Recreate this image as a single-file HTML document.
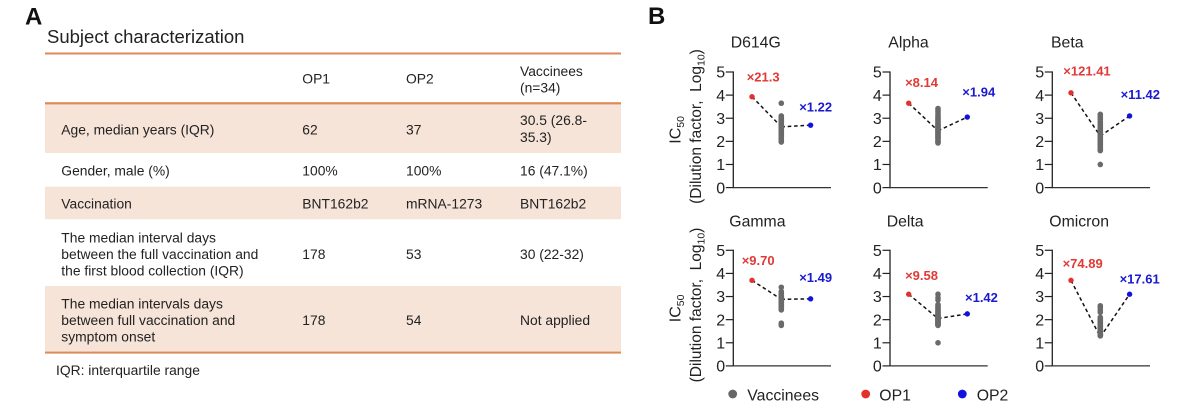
<!DOCTYPE html>
<html lang="en">
<head>
<meta charset="utf-8">
<title>Subject characterization and IC50 panels</title>
<style>
html,body{margin:0;padding:0;background:#fff;}
svg{display:block;}
text{font-family:"Liberation Sans",Arial,sans-serif;fill:#222;}
.cell{font-size:13.85px;}
</style>
</head>
<body>
<svg id="fig" xmlns="http://www.w3.org/2000/svg" width="1200" height="412" viewBox="0 0 1200 412">
  <rect x="0" y="0" width="1200" height="412" fill="#fff"/>

  <g>
    <text x="25" y="24.3" font-size="24" font-weight="bold" style="fill:#111">A</text>
    <text x="47" y="43" font-size="18.5">Subject characterization</text>

    <rect x="45" y="104" width="576" height="49" fill="#f6e4d8"/>
    <rect x="45" y="186.7" width="576" height="32.6" fill="#f6e4d8"/>
    <rect x="45" y="286" width="576" height="66" fill="#f6e4d8"/>
    <rect x="45" y="52.5" width="576" height="2" fill="#dc8a58"/>
    <rect x="45" y="102.2" width="576" height="2.2" fill="#dc8a58"/>
    <rect x="45" y="351.6" width="576" height="2" fill="#dc8a58"/>

    <text class="cell" x="302.3" y="83.3">OP1</text>
    <text class="cell" x="406" y="83.3">OP2</text>
    <text class="cell" x="520" y="76">Vaccinees</text>
    <text class="cell" x="520" y="92.3">(n=34)</text>

    <text class="cell" x="61.3" y="134.3">Age, median years (IQR)</text>
    <text class="cell" x="302.3" y="134.3">62</text>
    <text class="cell" x="406" y="134.3">37</text>
    <text class="cell" x="520" y="125">30.5 (26.8-</text>
    <text class="cell" x="520" y="142">35.3)</text>

    <text class="cell" x="61.3" y="175.7">Gender, male (%)</text>
    <text class="cell" x="302.3" y="175.7">100%</text>
    <text class="cell" x="406" y="175.7">100%</text>
    <text class="cell" x="520" y="175.7">16 (47.1%)</text>

    <text class="cell" x="61.3" y="208.3">Vaccination</text>
    <text class="cell" x="302.3" y="208.3">BNT162b2</text>
    <text class="cell" x="406" y="208.3">mRNA-1273</text>
    <text class="cell" x="520" y="208.3">BNT162b2</text>

    <text class="cell" x="61.3" y="242.3">The median interval days</text>
    <text class="cell" x="61.3" y="258.8">between the full vaccination and</text>
    <text class="cell" x="61.3" y="275.5">the first blood collection (IQR)</text>
    <text class="cell" x="302.3" y="258.8">178</text>
    <text class="cell" x="406" y="258.8">53</text>
    <text class="cell" x="520" y="258.8">30 (22-32)</text>

    <text class="cell" x="61.3" y="308.3">The median intervals days</text>
    <text class="cell" x="61.3" y="325">between full vaccination and</text>
    <text class="cell" x="61.3" y="341.7">symptom onset</text>
    <text class="cell" x="302.3" y="325">178</text>
    <text class="cell" x="406" y="325">54</text>
    <text class="cell" x="520" y="325">Not applied</text>

    <text class="cell" x="56" y="375">IQR: interquartile range</text>
  </g>

  <g id="panelB">
    <text x="648" y="24" font-size="24" font-weight="bold" style="fill:#111">B</text>
  </g>

  <g>
    <circle cx="732.7" cy="394" r="4.4" fill="#666"/>
    <text x="747.3" y="400.3" font-size="15.8">Vaccinees</text>
    <circle cx="865.7" cy="394" r="4.4" fill="#e2302c"/>
    <text x="879.3" y="400.3" font-size="15.8">OP1</text>
    <circle cx="962.3" cy="394" r="4.4" fill="#1212dc"/>
    <text x="976.7" y="400.3" font-size="15.8">OP2</text>
  </g>
</svg>

<script>
const variants = ['D614G', 'Alpha', 'Beta', 'Gamma', 'Delta', 'Omicron'];
const yTicks = [0, 1, 2, 3, 4, 5];
const groups = ['OP1', 'Vaccinees', 'OP2'];
const op1Values = [3.93, 3.65, 4.1, 3.7, 3.1, 3.7];
const op2Values = [2.7, 3.05, 3.1, 2.9, 2.25, 3.1];
const vaccineeMedians = [2.63, 2.46, 2.23, 2.88, 2.05, 1.25];
const op1Folds = ['×21.3', '×8.14', '×121.41', '×9.70', '×9.58', '×74.89'];
const op2Folds = ['×1.22', '×1.94', '×11.42', '×1.49', '×1.42', '×17.61'];
const vaccineesD614G = [3.65,3.1,3.08,3.05,3.0,2.95,2.92,2.9,2.85,2.82,2.8,2.75,2.72,2.7,2.65,2.62,2.6,2.58,2.55,2.5,2.48,2.45,2.42,2.4,2.35,2.32,2.3,2.25,2.2,2.15,2.1,2.05,2.0,1.97];
const vaccineesAlpha = [3.42,3.35,3.28,3.2,3.12,3.05,3.0,2.95,2.9,2.85,2.8,2.75,2.7,2.68,2.65,2.6,2.56,2.52,2.5,2.46,2.42,2.4,2.36,2.32,2.3,2.25,2.2,2.18,2.15,2.1,2.05,2.0,1.97,1.93];
const vaccineesBeta = [3.17,3.1,3.02,2.95,2.85,2.8,2.72,2.68,2.62,2.58,2.52,2.48,2.42,2.38,2.34,2.3,2.25,2.2,2.16,2.12,2.08,2.04,2.0,1.96,1.92,1.88,1.84,1.8,1.75,1.7,1.65,1.62,1.6,1.0];
const vaccineesGamma = [3.4,3.22,3.15,3.1,3.05,3.02,3.0,2.97,2.95,2.92,2.9,2.88,2.86,2.84,2.82,2.8,2.78,2.76,2.74,2.72,2.7,2.68,2.65,2.62,2.6,2.58,2.55,2.52,2.5,2.46,2.42,1.85,1.8,1.75];
const vaccineesDelta = [3.1,2.95,2.85,2.65,2.6,2.55,2.5,2.45,2.4,2.36,2.32,2.28,2.25,2.2,2.18,2.15,2.12,2.1,2.06,2.04,2.02,2.0,1.98,1.95,1.92,1.9,1.88,1.86,1.84,1.82,1.8,1.77,1.75,1.0];
const vaccineesOmicron = [2.6,2.52,2.42,2.32,2.1,2.05,2.0,1.96,1.92,1.9,1.86,1.82,1.8,1.76,1.72,1.7,1.66,1.62,1.6,1.58,1.55,1.52,1.5,1.48,1.45,1.42,1.4,1.38,1.36,1.35,1.33,1.32,1.31,1.3];
const vaccineeSeries = [vaccineesD614G, vaccineesAlpha, vaccineesBeta, vaccineesGamma, vaccineesDelta, vaccineesOmicron];

const layoutAxisX = [733.3, 890, 1052.3];
const layoutRowTop = [72, 250.3];
const layoutTitleX = [730.7, 888.3, 1051, 729.3, 886.7, 1049.3];
const layoutOp1Offset = [[-5.3,-15],[-3.6,-16.3],[-7.7,-17.5],[-10.3,-15.3],[-3.6,-14.3],[-8.4,-12.6]];
const layoutOp2Offset = [[-11.4,-13.5],[-5,-20.8],[-9,-17],[-11.4,-17],[-2.3,-12],[-10,-10.5]];
const plotHeight = 115.6;
const plotWidth = 97.7;
const yMax = 5;
const svgNS = 'http://www.w3.org/2000/svg';
const root = document.getElementById('panelB');

function make(parent, tag, attrs, content) {
  const el = document.createElementNS(svgNS, tag);
  Object.keys(attrs).forEach(function (k) { el.setAttribute(k, attrs[k]); });
  if (content !== undefined) el.textContent = content;
  parent.appendChild(el);
  return el;
}

function drawYTitle(g, cx, cy, slug) {
  const title = make(g, 'text', { transform: 'translate(' + cx + ',' + cy + ') rotate(-90)', 'text-anchor': 'middle', 'font-size': 15.5 });
  
  
  make(title, 'tspan', { x: -3.4, y: -4.3, 'font-size': 16 }, 'IC');
  make(title, 'tspan', { dy: 3.5, 'font-size': 10.5 }, '50');
  make(title, 'tspan', { x: 0, y: 16 }, '(Dilution factor,\u00a0\u00a0Log');
  make(title, 'tspan', { dy: 3.5, 'font-size': 10.5 }, '10');
  make(title, 'tspan', { dy: -3.5 }, ')');
}

variants.forEach(function (name, i) {
  const col = i % 3;
  const row = Math.floor(i / 3);
  const slug = name.toLowerCase();
  const x0 = layoutAxisX[col];
  const top = layoutRowTop[row];
  const yScale = function (v) { return top + plotHeight - (v / yMax) * plotHeight; };
  const xScale = function (k) { return x0 + 18.7 + k * 29.3; };

  const g = make(root, 'g', {});
  
  

  const title = make(g, 'text', { x: layoutTitleX[i], y: row === 0 ? 47.7 : 226.7, 'font-size': 15.8 }, name);
  
  

  if (col === 0) drawYTitle(g, 685, row === 0 ? 126.5 : 305, slug);

  const yAxis = make(g, 'line', { x1: x0, x2: x0, y1: yScale(yMax) - 0.6, y2: yScale(0) + 0.6, stroke: '#222', 'stroke-width': 1.3 });
  
  
  const xAxis = make(g, 'line', { x1: x0, x2: x0 + plotWidth, y1: yScale(0), y2: yScale(0), stroke: '#333', 'stroke-width': 1.3 });
  
  

  yTicks.forEach(function (t) {
    const tick = make(g, 'line', { x1: x0 - 7.5, x2: x0, y1: yScale(t), y2: yScale(t), stroke: '#222', 'stroke-width': 1.2 });
    
    
    const label = make(g, 'text', { x: x0 - 8.2, y: yScale(t) + 5.7, 'text-anchor': 'end', 'font-size': 16 }, String(t));
    
    
  });

  const dash = '3.6 2.8';
  const link1 = make(g, 'line', { x1: xScale(0), y1: yScale(op1Values[i]), x2: xScale(1), y2: yScale(vaccineeMedians[i]), stroke: '#111', 'stroke-width': 1.5, 'stroke-dasharray': dash });
  
  
  const link2 = make(g, 'line', { x1: xScale(1), y1: yScale(vaccineeMedians[i]), x2: xScale(2), y2: yScale(op2Values[i]), stroke: '#111', 'stroke-width': 1.5, 'stroke-dasharray': dash });
  
  

  vaccineeSeries[i].forEach(function (v) {
    const dot = make(g, 'circle', { cx: xScale(1), cy: yScale(v), r: 2.8, fill: '#6a6a6a' });
    
    
  });

  const p1 = make(g, 'circle', { cx: xScale(0), cy: yScale(op1Values[i]), r: 2.7, fill: '#e2302c' });
  
  
  const p2 = make(g, 'circle', { cx: xScale(2), cy: yScale(op2Values[i]), r: 2.7, fill: '#1212dc' });
  
  

  const l1 = make(g, 'text', { x: xScale(0) + layoutOp1Offset[i][0], y: yScale(op1Values[i]) + layoutOp1Offset[i][1], 'font-size': 13, 'font-weight': 'bold', style: 'fill:#e03a36' }, op1Folds[i]);
  
  
  const l2 = make(g, 'text', { x: xScale(2) + layoutOp2Offset[i][0], y: yScale(op2Values[i]) + layoutOp2Offset[i][1], 'font-size': 13, 'font-weight': 'bold', style: 'fill:#1a1ad0' }, op2Folds[i]);
  
  
});
</script>
</body>
</html>
